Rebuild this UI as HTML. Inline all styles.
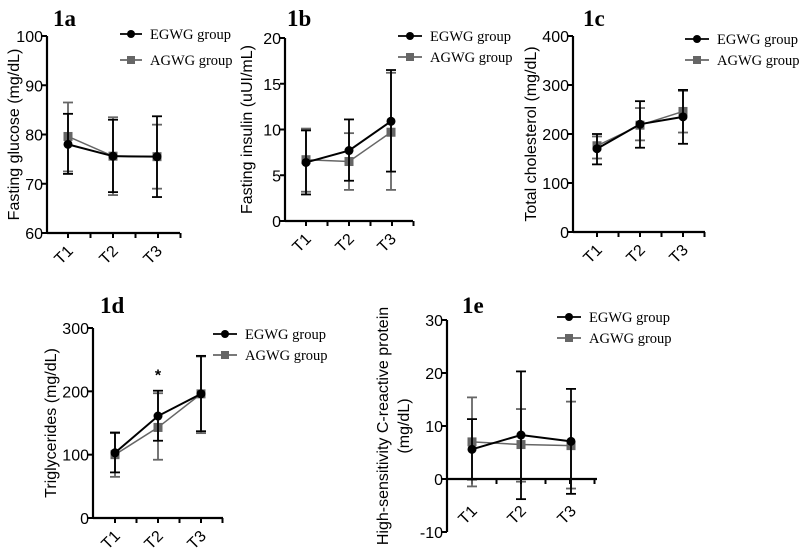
<!DOCTYPE html>
<html><head><meta charset="utf-8"><style>
body{margin:0;background:#fff;width:800px;height:553px;overflow:hidden}
svg{display:block}
.tick{font-family:"Liberation Sans",sans-serif;font-size:16px;fill:#000}
.leg{font-family:"Liberation Serif",serif;font-size:14.5px;fill:#000}
.ttl{font-family:"Liberation Serif",serif;font-size:23px;font-weight:bold;fill:#000}
</style></head><body>
<svg id="chart" width="800" height="553" viewBox="0 0 800 553" xmlns="http://www.w3.org/2000/svg"></svg>
<script>
const categories = ["T1","T2","T3"];
// 1a Fasting glucose
const aTicks = [60,70,80,90,100];
const aE = [78,75.6,75.5], aElo=[72,68.3,67.3], aEhi=[84.2,83,83.7];
const aA = [79.6,75.6,75.5], aAlo=[72.5,67.7,69], aAhi=[86.5,83.5,82];
// 1b Fasting insulin
const bTicks = [0,5,10,15,20];
const bE = [6.4,7.7,10.9], bElo=[2.9,4.4,5.4], bEhi=[9.9,11.1,16.5];
const bA = [6.7,6.5,9.7], bAlo=[3.2,3.4,3.4], bAhi=[10.1,9.6,16.2];
// 1c Total cholesterol
const cTicks = [0,100,200,300,400];
const cE = [170,220,235], cElo=[138,172,180], cEhi=[200,267,290];
const cA = [176,218,246], cAlo=[150,187,203], cAhi=[195,253,288];
// 1d Triglycerides
const dTicks = [0,100,200,300];
const dE = [103,161,196], dElo=[72,122,137], dEhi=[135,201,256];
const dA = [100,143,196], dAlo=[65,92,134], dAhi=[134,197,255];
// 1e hs-CRP
const eTicks = [-10,0,10,20,30];
const eE = [5.6,8.3,7.1], eElo=[-0.1,-3.8,-2.8], eEhi=[11.3,20.3,17];
const eA = [7,6.5,6.3], eAlo=[-1.4,-0.5,-1.8], eAhi=[15.4,13.2,14.6];

const svg=document.getElementById('chart');
const NS='http://www.w3.org/2000/svg';
function mk(tag,attrs,parent){const e=document.createElementNS(NS,tag);for(const k in attrs)e.setAttribute(k,attrs[k]);(parent||svg).appendChild(e);return e;}

function panel(p){
  const g=mk('g',{});
  
  
  const ymin=p.ticks[0], ymax=p.ticks[p.ticks.length-1];
  const Y=v=>p.yb+(v-ymin)/(ymax-ymin)*(p.yt-p.yb);
  const X=i=>p.x0+p.xs[i];
  const y0=p.xaxisAt!==undefined?Y(p.xaxisAt):p.yb;
  const t=mk('text',{x:p.tx,y:p.ty,class:'ttl'},g);t.textContent=p.id;
  
  
  const ya=mk('line',{x1:p.x0,x2:p.x0,y1:p.yt,y2:p.yb,stroke:'#000','stroke-width':2.2},g);
  
  
  p.ticks.forEach(v=>{
    mk('line',{x1:p.x0-5,x2:p.x0,y1:Y(v),y2:Y(v),stroke:'#000','stroke-width':2},g);
    const tl=mk('text',{x:p.x0-4,y:Y(v)+6,class:'tick','text-anchor':'end'},g);tl.textContent=v;
    
    
  });
  const xa=mk('line',{x1:p.x0,x2:p.xe,y1:y0,y2:y0,stroke:'#000','stroke-width':2.2},g);
  
  
  const step=(X(1)-X(0))/2;
  for(let k=0;k<6;k++){const xx=X(0)+k*step;if(xx<=p.xe+1)mk('line',{x1:xx,x2:xx,y1:y0,y2:y0+5,stroke:'#000','stroke-width':2},g);}
  categories.forEach((c,i)=>{
    const lx=X(i)+6, ly=y0+19+(p.xlOff||0);
    const tl=mk('text',{x:lx,y:ly,class:'tick','text-anchor':'end',transform:`rotate(-45 ${lx} ${ly})`},g);tl.textContent=c;
    
    
  });
  p.ylab.forEach((s,j)=>{
    const lx=p.ylx+j*21, ly=(p.yt+p.yb)/2+(p.ylOff||0);
    const yl=mk('text',{x:lx,y:ly,class:'tick','font-size':'15','text-anchor':'middle',transform:`rotate(-90 ${lx} ${ly})`},g);yl.textContent=s;
    
    
  });
  const series=[{v:p.A,lo:p.Alo,hi:p.Ahi,col:'#666',sq:true,name:'agwg'},{v:p.E,lo:p.Elo,hi:p.Ehi,col:'#000',sq:false,name:'egwg'}];
  series.forEach(s=>{
    const sg=mk('g',{},g);
    
    
    s.v.forEach((v,i)=>{
      mk('line',{x1:X(i),x2:X(i),y1:Y(s.lo[i]),y2:Y(s.hi[i]),stroke:s.col,'stroke-width':1.8},sg);
      [s.lo[i],s.hi[i]].forEach(e=>mk('line',{x1:X(i)-5,x2:X(i)+5,y1:Y(e),y2:Y(e),stroke:s.col,'stroke-width':1.8},sg));
    });
    const pl=mk('polyline',{points:s.v.map((v,i)=>X(i)+','+Y(v)).join(' '),fill:'none',stroke:s.col,'stroke-width':s.sq?1.5:2},sg);
    
    
    s.v.forEach((v,i)=>{
      let m;
      if(s.sq)m=mk('rect',{x:X(i)-4.5,y:Y(v)-4.5,width:9,height:9,fill:s.col},sg);
      else m=mk('circle',{cx:X(i),cy:Y(v),r:4.5,fill:s.col},sg);
      
      
    });
  });
  [['EGWG group','#000',false],['AGWG group','#666',true]].forEach((L,j)=>{
    const lg=mk('g',{},g);
    
    
    const ly=p.ly+j*p.lgap, lx=p.lx;
    mk('line',{x1:lx,x2:lx+p.lw,y1:ly,y2:ly,stroke:L[1],'stroke-width':1.8},lg);
    if(L[2])mk('rect',{x:lx+p.lw/2-4,y:ly-4,width:8,height:8,fill:L[1]},lg);
    else mk('circle',{cx:lx+p.lw/2,cy:ly,r:4,fill:L[1]},lg);
    const tx=mk('text',{x:lx+p.lw+8,y:ly+5,class:'leg'},lg);tx.textContent=L[0];
  });
  return {X,Y,g};
}

panel({id:'1a',ticks:aTicks,E:aE,Elo:aElo,Ehi:aEhi,A:aA,Alo:aAlo,Ahi:aAhi,x0:47,xs:[21,66,110],xe:180,yt:36,yb:233,tx:53,ty:26,ylab:['Fasting glucose (mg/dL)'],ylx:19,lx:120,ly:34,lgap:26,lw:22});
panel({id:'1b',ticks:bTicks,E:bE,Elo:bElo,Ehi:bEhi,A:bA,Alo:bAlo,Ahi:bAhi,x0:285,xs:[21,64,106],xe:413,yt:38,yb:221,tx:287,ty:26,ylab:['Fasting insulin (uUI/mL)'],ylx:252,lx:398,ly:36,lgap:21,lw:24});
panel({id:'1c',ticks:cTicks,E:cE,Elo:cElo,Ehi:cEhi,A:cA,Alo:cAlo,Ahi:cAhi,x0:573,xs:[24,67,110],xe:705,yt:36,yb:232,tx:583,ty:26,ylab:['Total cholesterol (mg/dL)'],ylx:536,lx:685,ly:39,lgap:21,lw:24});
const pd=panel({id:'1d',ticks:dTicks,E:dE,Elo:dElo,Ehi:dEhi,A:dA,Alo:dAlo,Ahi:dAhi,x0:93,xs:[22,65,108],xe:223,yt:328,yb:518,tx:100,ty:313,ylab:['Triglycerides (mg/dL)'],ylx:56,lx:213,ly:334,lgap:21,lw:24});
const star=mk('text',{x:pd.X(1),y:pd.Y(dEhi[1])-10,class:'tick','text-anchor':'middle','font-size':'18','font-weight':'bold'});
star.textContent='*';


panel({id:'1e',ticks:eTicks,E:eE,Elo:eElo,Ehi:eEhi,A:eA,Alo:eAlo,Ahi:eAhi,x0:447,xs:[25,74,124],xe:597,yt:320,yb:532,xaxisAt:0,xlOff:14,tx:462,ty:313,ylab:['High-sensitivity C-reactive protein','(mg/dL)'],ylx:388,lx:557,ly:317,lgap:21,lw:24});
</script>
</body></html>
